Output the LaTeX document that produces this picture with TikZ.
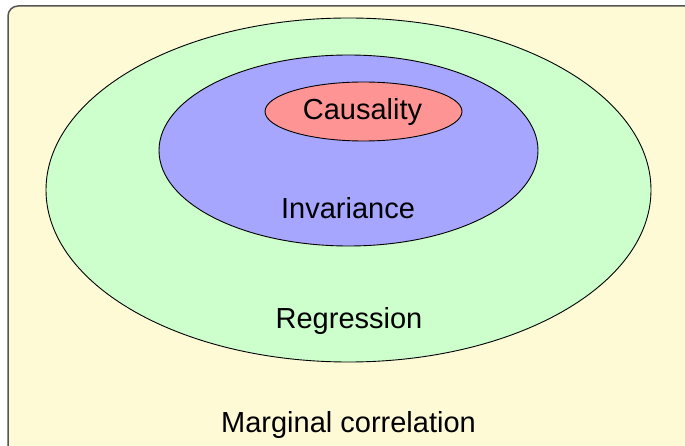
\documentclass[tikz,border=0pt]{standalone}
\usepackage{fontspec}
\setmainfont{Liberation Sans}
\definecolor{cream}{HTML}{FFFAD6}
\definecolor{lgreen}{HTML}{CCFFCC}
\definecolor{lblue}{HTML}{A6A6FF}
\definecolor{lred}{HTML}{FF9494}
\definecolor{frame}{HTML}{555555}
\tikzset{
  ring/.style={draw=black, line width=0.9pt},
  lbl/.style={font=\fontsize{29}{34}\selectfont, inner sep=0pt, anchor=base}
}
\begin{document}
\begin{tikzpicture}[x=1pt,y=-1pt]
\useasboundingbox (0,0) rectangle (685,446);
\draw[fill=cream, draw=frame, line width=1.5pt, rounded corners=10pt] (8,6) rectangle (695,456);
\draw[ring, fill=lgreen] (348.5,190) ellipse [x radius=302.5, y radius=172];
\draw[ring, fill=lblue] (348.5,150.5) ellipse [x radius=189.5, y radius=95.5];
\draw[ring, fill=lred] (363.5,111.5) ellipse [x radius=98.5, y radius=29.5];
\node[lbl] (caus) at (362.5,120) {Causality};
\node[lbl] (inv) at (348,218.5) {Invariance};
\node[lbl] (reg) at (349,328.5) {Regression};
\node[lbl] (marg) at (348.5,432) {Marginal correlation};
\end{tikzpicture}
\end{document}
